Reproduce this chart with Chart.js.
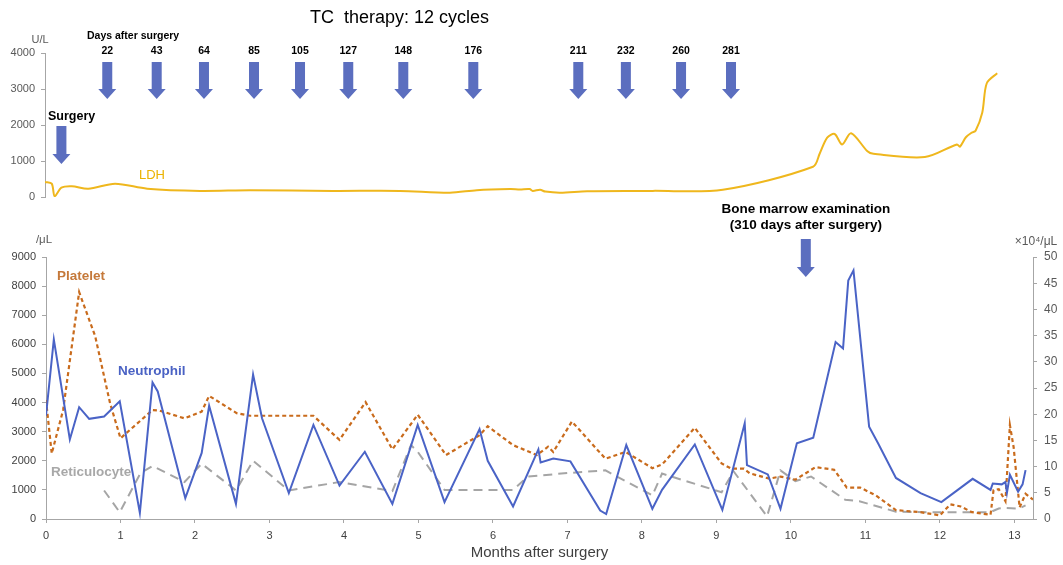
<!DOCTYPE html>
<html lang="en">
<head>
<meta charset="UTF-8">
<script src="https://cdn.jsdelivr.net/npm/chart.js@4.4.0/dist/chart.umd.min.js"></script>
<title>TC therapy: 12 cycles</title>
<style>
  body { margin: 0; background: #fff; }
  #wrap { position: relative; width: 1063px; height: 565px; }
  canvas { position: absolute; left: 0; }
  #top { top: 0; }
  #bottom { top: 200px; }
</style>
</head>
<body>
<div id="wrap">
  <canvas id="top" width="1063" height="210"></canvas>
  <canvas id="bottom" width="1063" height="365"></canvas>
</div>
<script>
// LDH (U/L), top panel
const ldhMonths = [0, 0.09, 0.13, 0.22, 0.36, 0.58, 0.94, 1.37, 2.08, 2.75, 3.86, 4.76, 5.43, 5.79, 6.24, 6.37, 6.5, 6.54, 6.64, 6.71, 6.91, 7.27, 8.15, 9.09, 10.3, 10.39, 10.49, 10.59, 10.69, 10.81, 11.03, 11.11, 11.8, 12.23, 12.27, 12.35, 12.43, 12.48, 12.57, 12.63, 12.77];
const ldhValues = [420, 370, 20, 260, 300, 230, 370, 230, 170, 190, 170, 170, 120, 190, 220, 210, 220, 170, 200, 150, 120, 160, 170, 200, 840, 1210, 1650, 1750, 1460, 1770, 1270, 1200, 1110, 1460, 1400, 1660, 1790, 1840, 2350, 3160, 3440];

// Neutrophil (/uL)
const neutMonths = [0, 0.105, 0.32, 0.445, 0.58, 0.78, 0.99, 1.26, 1.43, 1.5, 1.87, 2.09, 2.19, 2.55, 2.78, 2.9, 3.26, 3.59, 3.94, 4.28, 4.65, 4.99, 5.35, 5.82, 5.93, 6.27, 6.61, 6.64, 6.81, 7.04, 7.44, 7.52, 7.79, 8.14, 8.27, 8.71, 9.08, 9.38, 9.41, 9.69, 9.86, 10.08, 10.3, 10.6, 10.7, 10.77, 10.84, 11.05, 11.17, 11.41, 11.74, 12.02, 12.44, 12.68, 12.71, 12.83, 12.88, 12.9, 12.94, 13.05, 13.11, 13.15];
const neutValues = [3550, 6170, 2730, 3840, 3440, 3520, 4040, 210, 4690, 4380, 715, 2270, 3890, 520, 4960, 3460, 890, 3230, 1150, 2310, 520, 3230, 580, 3090, 2000, 430, 2390, 1940, 2080, 1980, 290, 170, 2540, 350, 1000, 2560, 310, 3290, 1850, 1530, 350, 2600, 2790, 6080, 5860, 8190, 8540, 3170, 2600, 1410, 890, 580, 1380, 1000, 1220, 1190, 1270, 900, 1520, 940, 1190, 1680];

// Platelet (x10^4/uL), right axis
const pltMonths = [0, 0.077, 0.23, 0.445, 0.66, 0.86, 1.0, 1.43, 1.52, 1.86, 2.09, 2.19, 2.56, 2.74, 3.59, 3.94, 4.29, 4.65, 4.99, 5.37, 5.82, 5.93, 6.27, 6.59, 6.74, 6.81, 7.06, 7.51, 7.78, 8.14, 8.27, 8.71, 9.07, 9.2, 9.37, 9.45, 9.71, 9.86, 10.06, 10.33, 10.58, 10.75, 10.93, 11.14, 11.41, 11.74, 12.0, 12.14, 12.28, 12.43, 12.68, 12.72, 12.79, 12.88, 12.94, 12.99, 13.07, 13.15, 13.25];
const pltValues = [22.7, 12.5, 20.8, 43.3, 34.9, 22.1, 15.4, 20.8, 20.7, 19.2, 20.5, 23.5, 20.2, 19.7, 19.7, 15.1, 22.3, 13.3, 19.9, 12.2, 16.0, 17.7, 14.1, 12.2, 13.8, 12.8, 18.6, 11.5, 12.8, 9.7, 10.4, 17.4, 10.6, 9.6, 9.6, 8.7, 7.7, 8.1, 7.5, 9.9, 9.4, 6.0, 6.0, 4.5, 1.7, 1.3, 0.7, 2.8, 2.4, 1.3, 0.8, 5.5, 5.7, 3.4, 17.9, 13.7, 2.2, 4.8, 3.7];

// Reticulocyte (/uL)
const retiMonths = [0.78, 0.99, 1.27, 1.43, 1.86, 2.09, 2.55, 2.78, 3.26, 3.94, 4.65, 4.9, 4.99, 5.35, 6.27, 6.47, 7.01, 7.51, 8.14, 8.27, 9.07, 9.23, 9.68, 9.86, 10.06, 10.27, 10.73, 10.92, 11.41, 12.0, 12.41, 12.67, 12.79, 12.88, 13.06, 13.15];
const retiValues = [980, 230, 1580, 1820, 1270, 1900, 980, 2000, 980, 1270, 960, 2540, 2310, 1000, 1000, 1460, 1580, 1670, 810, 1560, 920, 1640, 90, 1670, 1300, 1460, 660, 610, 250, 230, 230, 230, 360, 380, 360, 470];

// month ticks on the shared x axis
const monthTicks = [0, 1, 2, 3, 4, 5, 6, 7, 8, 9, 10, 11, 12, 13];

// TC therapy cycles: day after surgery and where the arrow sits (months)
const cycleDays = [22, 43, 64, 85, 105, 127, 148, 176, 211, 232, 260, 281];
const cycleMonths = [0.835, 1.498, 2.132, 2.803, 3.42, 4.067, 4.805, 5.744, 7.152, 7.79, 8.53, 9.2];
const surgeryMonth = 0.22;
const marrowMonth = 10.2;

const pts = (xs, ys) => xs.map((x, i) => ({ x: x, y: ys[i] }));

const FONT = '"Liberation Sans", Arial, sans-serif';
const ARROW = '#5b6ebf';

function drawArrow(ctx, cx, top, tip) {
  const shaft = 5, head = 9, headLen = 10;
  ctx.fillStyle = ARROW;
  ctx.beginPath();
  ctx.moveTo(cx - shaft, top);
  ctx.lineTo(cx + shaft, top);
  ctx.lineTo(cx + shaft, tip - headLen);
  ctx.lineTo(cx + head, tip - headLen);
  ctx.lineTo(cx, tip);
  ctx.lineTo(cx - head, tip - headLen);
  ctx.lineTo(cx - shaft, tip - headLen);
  ctx.closePath();
  ctx.fill();
}

const topNotes = {
  id: 'topNotes',
  afterDraw(chart) {
    const ctx = chart.ctx;
    const x = chart.scales.x;
    ctx.save();
    ctx.textBaseline = 'middle';
    ctx.fillStyle = '#000';
    ctx.textAlign = 'left';
    ctx.font = '18px ' + FONT;
    ctx.fillText('TC  therapy: 12 cycles', 310, 18);
    ctx.font = 'bold 10.5px ' + FONT;
    ctx.fillText('Days after surgery', 87, 36);
    ctx.font = 'bold 12.5px ' + FONT;
    ctx.fillText('Surgery', 48, 117);
    ctx.textAlign = 'center';
    ctx.font = 'bold 10.5px ' + FONT;
    cycleDays.forEach((d, i) => {
      const px = x.getPixelForValue(cycleMonths[i]);
      ctx.fillStyle = '#000';
      ctx.fillText(String(d), px, 51);
      drawArrow(ctx, px, 62, 99);
    });
    drawArrow(ctx, x.getPixelForValue(surgeryMonth), 126, 164);
    ctx.fillStyle = '#595959';
    ctx.font = '11px ' + FONT;
    ctx.fillText('U/L', 40, 40);
    ctx.fillStyle = '#ebb300';
    ctx.font = '13px ' + FONT;
    ctx.textAlign = 'left';
    ctx.fillText('LDH', 139, 175);
    ctx.restore();
  }
};

const bottomNotes = {
  id: 'bottomNotes',
  beforeDatasetsDraw(chart) {
    const ctx = chart.ctx;
    ctx.save();
    ctx.textBaseline = 'middle';
    ctx.textAlign = 'left';
    ctx.font = 'bold 13.5px ' + FONT;
    ctx.fillStyle = '#c5793a';
    ctx.fillText('Platelet', 57, 76);
    ctx.fillStyle = '#4a62c4';
    ctx.fillText('Neutrophil', 118, 171);
    ctx.fillStyle = '#a8a8a8';
    ctx.fillText('Reticulocyte', 51, 272);
    ctx.restore();
  },
  afterDraw(chart) {
    const ctx = chart.ctx;
    const x = chart.scales.x;
    ctx.save();
    ctx.textBaseline = 'middle';
    ctx.textAlign = 'center';
    ctx.fillStyle = '#595959';
    ctx.font = '11.5px ' + FONT;
    ctx.fillText('/μL', 44, 40);
    ctx.font = '12px ' + FONT;
    ctx.fillText('×10⁴/μL', 1036, 42);
    ctx.fillStyle = '#000';
    ctx.font = 'bold 13.5px ' + FONT;
    const mx = x.getPixelForValue(marrowMonth);
    ctx.fillText('Bone marrow examination', mx, 9);
    ctx.fillText('(310 days after surgery)', mx, 25);
    drawArrow(ctx, mx, 39, 77);
    ctx.restore();
  }
};

const axisGrid = { drawOnChartArea: false, drawTicks: true, tickLength: 4, color: '#a6a6a6' };
const axisBorder = { color: '#a6a6a6', width: 1 };
const plain = v => String(v);

new Chart(document.getElementById('top'), {
  type: 'line',
  data: {
    datasets: [{
      data: pts(ldhMonths, ldhValues),
      borderColor: '#efb71d',
      borderWidth: 2,
      pointRadius: 0,
      tension: 0.3
    }]
  },
  options: {
    responsive: false,
    animation: false,
    layout: { padding: { top: 53, right: 30, bottom: 13, left: 0 } },
    plugins: { legend: { display: false }, tooltip: { enabled: false } },
    scales: {
      x: { type: 'linear', min: 0, max: 13.25, display: false },
      y: {
        min: 0, max: 4000,
        ticks: { stepSize: 1000, padding: 6, color: '#595959', font: { family: FONT, size: 11 }, callback: plain },
        grid: axisGrid,
        border: axisBorder,
        afterFit: s => { s.width = 45; }
      }
    }
  },
  plugins: [topNotes]
});

new Chart(document.getElementById('bottom'), {
  type: 'line',
  data: {
    datasets: [
      {
        label: 'Neutrophil',
        data: pts(neutMonths, neutValues),
        yAxisID: 'y',
        borderColor: '#4a63c6',
        borderWidth: 2,
        pointRadius: 0
      },
      {
        label: 'Platelet',
        data: pts(pltMonths, pltValues),
        yAxisID: 'y2',
        borderColor: '#c96b1c',
        borderDash: [4, 3],
        borderWidth: 2.2,
        pointRadius: 0
      },
      {
        label: 'Reticulocyte',
        data: pts(retiMonths, retiValues),
        yAxisID: 'y',
        borderColor: '#a5a5a5',
        borderDash: [9, 6],
        borderWidth: 2,
        pointRadius: 0
      }
    ]
  },
  options: {
    responsive: false,
    animation: false,
    layout: { padding: { top: 57, right: 0, bottom: 0, left: 0 } },
    plugins: { legend: { display: false }, tooltip: { enabled: false } },
    scales: {
      x: {
        type: 'linear', min: 0, max: 13.25,
        afterBuildTicks: s => { s.ticks = monthTicks.map(v => ({ value: v })); },
        ticks: { padding: 6, color: '#404040', font: { family: FONT, size: 11 }, maxRotation: 0, autoSkip: false, callback: plain },
        grid: axisGrid,
        border: axisBorder,
        title: { display: true, text: 'Months after surgery', color: '#404040', font: { family: FONT, size: 15 }, padding: { top: 0, bottom: 3 } },
        afterFit: s => { s.height = 46; }
      },
      y: {
        position: 'left',
        min: 0, max: 9000,
        ticks: { stepSize: 1000, padding: 6, color: '#404040', font: { family: FONT, size: 11 }, callback: plain },
        grid: axisGrid,
        border: axisBorder,
        afterFit: s => { s.width = 46; }
      },
      y2: {
        position: 'right',
        min: 0, max: 50,
        ticks: { stepSize: 5, padding: 7, color: '#595959', font: { family: FONT, size: 12 }, callback: plain },
        grid: axisGrid,
        border: axisBorder,
        afterFit: s => { s.width = 30; }
      }
    }
  },
  plugins: [bottomNotes]
});
</script>
</body>
</html>
